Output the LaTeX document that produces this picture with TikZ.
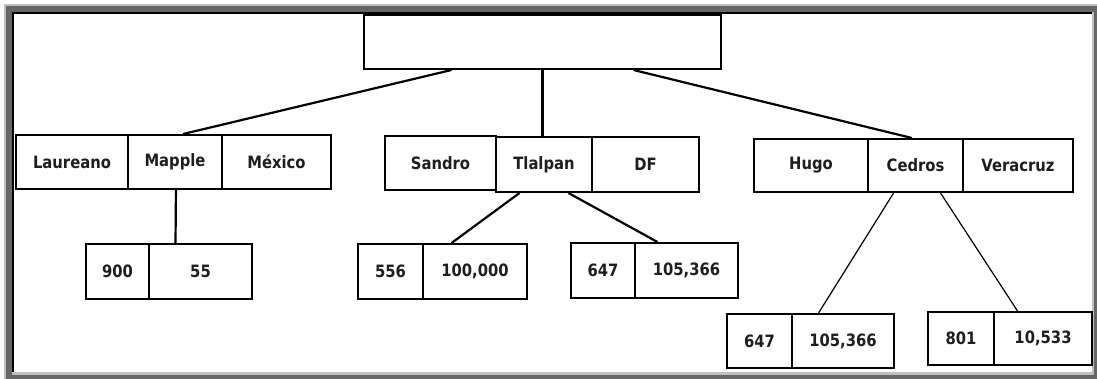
\documentclass[tikz,border=0pt]{standalone}
\usepackage{fontspec}
\setmainfont{DejaVu Sans}
\newfontfamily\cellfont[FakeStretch=0.87]{DejaVu Sans}
\usetikzlibrary{calc}
\definecolor{framelight}{HTML}{C0C0C0}
\definecolor{framedark}{HTML}{666666}
\definecolor{ink}{HTML}{1E1E1E}
\tikzset{
  cell/.style={draw=black, line width=2pt, fill=white, inner sep=0pt,
    text=ink, font=\cellfont\bfseries\fontsize{17}{20}\selectfont},
  link/.style={draw=black, line width=2.2pt},
  thinlink/.style={draw=black, line width=1.2pt}
}
\begin{document}
\begin{tikzpicture}[x=1pt,y=-1pt]
\useasboundingbox (0,0) rectangle (1097,379);
% sunken window frame
\fill[white] (0,0) rectangle (1097,379);
\fill[framelight] (4,4) rectangle (1097,379);
\fill[framedark] (6,6) rectangle (1097,379);
\fill[framelight] (12,12) rectangle (1094,375);
\fill[black] (12,12) rectangle (1092,372);
\fill[white] (14,14) rectangle (1092,372);

% root record
\node[cell, minimum width=357pt, minimum height=54pt] (root) at (542.5,42) {};

% first branch
\node[cell, minimum width=112pt, minimum height=54pt] (laureano) at (72,162) {Laureano};
\node[cell, minimum width=94pt, minimum height=54pt] (mapple) at (175,162) {Mapple};
\node[cell, minimum width=109pt, minimum height=54pt] (mexico) at (276.5,162) {México};
\node[cell, minimum width=63pt, minimum height=55pt] (n900) at (117.5,271.5) {900};
\node[cell, minimum width=103pt, minimum height=55pt] (n55) at (200.5,271.5) {55};

% second branch
\node[cell, minimum width=111pt, minimum height=54pt] (sandro) at (440.5,163) {Sandro};
\node[cell, minimum width=96pt, minimum height=55pt] (tlalpan) at (544,164.5) {Tlalpan};
\node[cell, minimum width=107pt, minimum height=55pt] (df) at (645.5,164.5) {DF};
\node[cell, minimum width=65pt, minimum height=55pt] (n556) at (390.5,271.5) {556};
\node[cell, minimum width=104pt, minimum height=55pt] (n100000) at (475,271.5) {100,000};
\node[cell, minimum width=64pt, minimum height=55pt] (n647a) at (603,270.5) {647};
\node[cell, minimum width=103pt, minimum height=55pt] (n105366a) at (686.5,270.5) {105,366};

% third branch
\node[cell, minimum width=114pt, minimum height=53pt] (hugo) at (811,165.5) {Hugo};
\node[cell, minimum width=95pt, minimum height=53pt] (cedros) at (915.5,165.5) {Cedros};
\node[cell, minimum width=110pt, minimum height=53pt] (veracruz) at (1018,165.5) {Veracruz};
\node[cell, minimum width=65pt, minimum height=54pt] (n647b) at (759.5,341) {647};
\node[cell, minimum width=102pt, minimum height=54pt] (n105366b) at (843,341) {105,366};
\node[cell, minimum width=66pt, minimum height=53pt] (n801) at (961,338.5) {801};
\node[cell, minimum width=98pt, minimum height=53pt] (n10533) at (1043,338.5) {10,533};

% connectors
\draw[link] ($(root.south west)!0.2465!(root.south east)$) -- ($(mapple.north west)!0.585!(mapple.north east)$);
\draw[link] (root.south) -- (root.south |- tlalpan.north);
\draw[link] ($(root.south west)!0.7535!(root.south east)$) -- ($(cedros.north west)!0.463!(cedros.north east)$);
\draw[link] ($(mapple.south west)!0.51!(mapple.south east)$) -- ($(n55.north west)!0.262!(n55.north east)$);
\draw[link] ($(tlalpan.south west)!0.25!(tlalpan.south east)$) -- ($(n100000.north west)!0.279!(n100000.north east)$);
\draw[link] ($(tlalpan.south west)!0.75!(tlalpan.south east)$) -- ($(n105366a.north west)!0.223!(n105366a.north east)$);
\draw[thinlink] ($(cedros.south west)!0.274!(cedros.south east)$) -- ($(n105366b.north west)!0.265!(n105366b.north east)$);
\draw[thinlink] ($(cedros.south west)!0.758!(cedros.south east)$) -- ($(n10533.north west)!0.245!(n10533.north east)$);
\end{tikzpicture}
\end{document}
